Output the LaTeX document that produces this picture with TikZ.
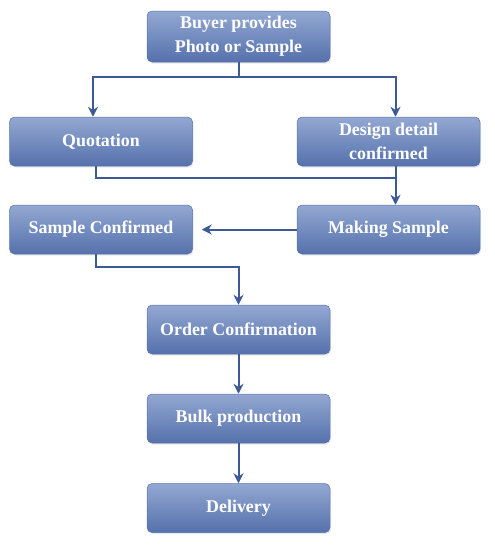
\documentclass[tikz,border=0pt]{standalone}
\usepackage{fontspec}
\setmainfont{Liberation Serif}
\usepackage{xcolor}
\usepackage{tikz}
\usetikzlibrary{arrows.meta,positioning,calc,shadows}
\definecolor{btop}{HTML}{93A8D2}
\definecolor{bbot}{HTML}{5571AC}
\definecolor{bedge}{HTML}{5A74AA}
\definecolor{lblue}{HTML}{3D5A96}

\begin{document}
\begin{tikzpicture}[x=1pt,y=-1pt,
  every node/.style={font=\bfseries\fontsize{17.9}{24}\selectfont,text=white},
  stepbox/.style={rectangle,rounded corners=5pt,minimum width=183pt,minimum height=49pt,
    inner sep=0pt,align=center,top color=btop,bottom color=bbot,draw=bedge,line width=0.5pt,
    drop shadow={opacity=0.18,shadow xshift=1pt,shadow yshift=-1.5pt}},
  link/.style={draw=lblue,line width=2pt},
  tip/.style={link,-{Stealth[length=10pt,width=10pt]}}]
  \useasboundingbox (0,0) rectangle (495,550);

  \node[stepbox,minimum height=51pt] (buyer) at (238.5,36.5) {Buyer provides\\Photo or Sample};
  \node[stepbox] (quote)    at (101,141.5)   {Quotation};
  \node[stepbox] (design)   at (388.5,141.5) {Design detail\\confirmed};
  \node[stepbox] (sampleok) at (101,229.5)   {Sample Confirmed};
  \node[stepbox] (making)   at (388.5,229.5) {Making Sample};
  \node[stepbox] (order)    at (238.5,329.5) {Order Confirmation};
  \node[stepbox] (bulk)     at (238.5,418.5) {Bulk production};
  \node[stepbox] (deliv)    at (238.5,508)   {Delivery};

  % split under the first box
  \coordinate (split) at ($(buyer.south)+(0,15)$);
  \draw[link] (buyer.south) -- (split);
  \draw[tip] (split) -| ([xshift=-8pt]quote.north);
  \draw[tip] (split) -| ([xshift=7pt]design.north);

  % both branches join before the sample
  \draw[link] ([xshift=-5pt]quote.south) |- ([xshift=7pt,yshift=-12pt]design.south);
  \draw[tip] ([xshift=7pt]design.south) -- ([xshift=7pt]making.north);
  \draw[tip] (making.west) -- ([xshift=9pt]sampleok.east);

  \draw[tip] ([xshift=-5pt]sampleok.south) -- ++(0,13) -| (order.north);
  \draw[tip] (order.south) -- (bulk.north);
  \draw[tip] (bulk.south) -- (deliv.north);
\end{tikzpicture}
\end{document}
